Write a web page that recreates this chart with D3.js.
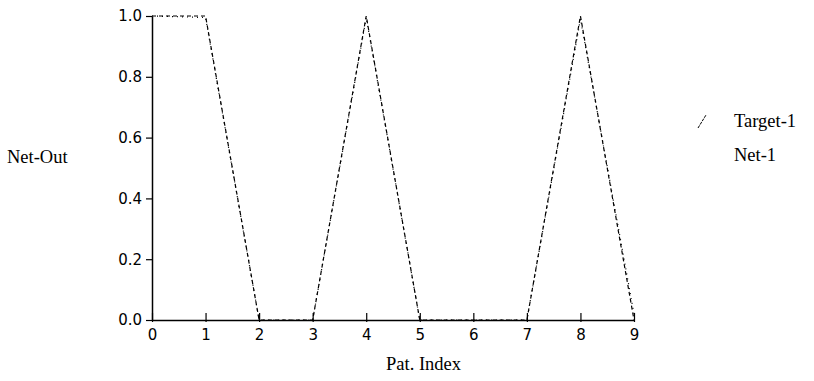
<!DOCTYPE html>
<html>
<head>
<meta charset="utf-8">
<script src="https://cdn.jsdelivr.net/npm/d3@7"></script>
<style>
  body { margin: 0; background: #fff; }
  .tick text { font-family: "Liberation Sans Narrow", "DejaVu Sans", sans-serif; font-size: 15px; fill: #000; }
  .label { font-family: "Liberation Serif", "Times New Roman", serif; font-size: 18.5px; fill: #000; }
</style>
</head>
<body>
<svg width="814" height="381"></svg>
<script>
const patIndex = [0, 1, 2, 3, 4, 5, 6, 7, 8, 9];
const target1 = [1, 1, 0, 0, 1, 0, 0, 0, 1, 0];
const net1 = [1.0, 0.995, 0.0, 0.0, 0.995, 0.0, 0.0, 0.0, 0.99, 0.02];
const yTicks = [0, 0.2, 0.4, 0.6, 0.8, 1.0];

const svg = d3.select('svg');

const x = d3.scaleLinear().domain([0, 9]).range([152, 634]);
const y = d3.scaleLinear().domain([0, 1]).range([320, 16]);

const xAxis = d3.axisBottom(x)
  .tickValues(patIndex)
  .tickSizeInner(-7)
  .tickSizeOuter(0)
  .tickPadding(9)
  .tickFormat(d3.format('d'));

const yAxis = d3.axisLeft(y)
  .tickValues(yTicks)
  .tickSizeInner(6)
  .tickSizeOuter(0)
  .tickPadding(4)
  .tickFormat(d3.format('.1f'));

const gx = svg.append('g')
  .attr('transform', `translate(0, ${y(0)})`)
  .call(xAxis);
gx.selectAll('.tick line').attr('y1', 2);

const gy = svg.append('g')
  .attr('transform', `translate(${x(0)}, 0)`)
  .call(yAxis);

svg.selectAll('.domain').attr('stroke', '#000').attr('stroke-width', 1.5);
svg.selectAll('.tick line').attr('stroke', '#000').attr('stroke-width', 1.2);

const line = d3.line()
  .x((d, i) => x(patIndex[i]))
  .y(d => y(d));

svg.append('path')
  .datum(target1)
  .attr('fill', 'none')
  .attr('stroke', '#000')
  .attr('stroke-width', 1.2)
  .attr('stroke-dasharray', '4,3')
  .attr('d', line);

svg.append('path')
  .datum(net1)
  .attr('fill', 'none')
  .attr('stroke', '#000')
  .attr('stroke-width', 1.2)
  .attr('stroke-dasharray', '1,4')
  .attr('d', line);

// legend
svg.append('line')
  .attr('x1', 698).attr('y1', 128)
  .attr('x2', 706).attr('y2', 115)
  .attr('stroke', '#000')
  .attr('stroke-dasharray', '3,1');

svg.append('text').attr('class', 'label')
  .attr('x', 734).attr('y', 127).text('Target-1');
svg.append('text').attr('class', 'label')
  .attr('x', 734).attr('y', 161).text('Net-1');

svg.append('text').attr('class', 'label')
  .attr('x', 7).attr('y', 163).text('Net-Out');
svg.append('text').attr('class', 'label')
  .attr('x', 386).attr('y', 370).text('Pat. Index');
</script>
</body>
</html>
